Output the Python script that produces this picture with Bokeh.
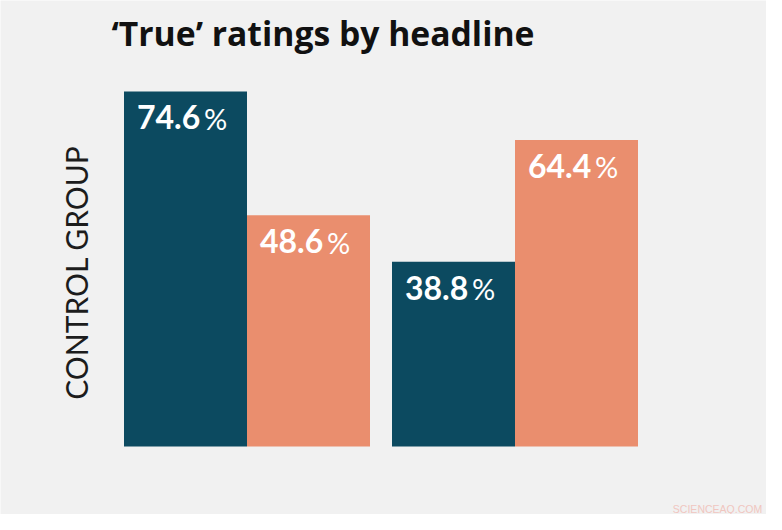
import math
from bokeh.plotting import figure
from bokeh.models import Range1d, Label, ColumnDataSource
from bokeh.core.properties import value
from bokeh.embed import file_html
from bokeh.resources import INLINE

# ---- data ----
groups = ["Headline A", "Headline B"]
series_a = [74.6, 38.8]   # dark teal bars
series_b = [48.6, 64.4]   # salmon bars
title_text = "\u2018True\u2019 ratings by headline"
ylabel_text = "CONTROL GROUP"
watermark = "SCIENCEAQ.COM"

BG = "#f1f1f1"
DARK = "#0c4a60"
SALMON = "#ea8e6e"

W, H = 766, 514
BAR_PX = 123.0
PX_PER_UNIT = 4.76
X0_PX = 185.0      # figure-pixel x of first bar centre
BASE_PX = 446.0    # figure-pixel y of baseline

xr = Range1d(-X0_PX / BAR_PX, (W - X0_PX) / BAR_PX)
yr = Range1d(-(H - BASE_PX) / PX_PER_UNIT, BASE_PX / PX_PER_UNIT)


def px2x(page_x):
    return (page_x - 8 - X0_PX) / BAR_PX


def px2y(page_y):
    return (BASE_PX - (page_y - 8)) / PX_PER_UNIT


p = figure(width=W, height=H, x_range=xr, y_range=yr, output_backend="svg",
           toolbar_location=None, x_axis_location=None, y_axis_location=None,
           min_border=0, min_border_left=0, min_border_right=0,
           min_border_top=0, min_border_bottom=0)
p.background_fill_color = BG
p.border_fill_color = BG
p.outline_line_color = None
p.grid.visible = False

group_gap = 22.0 / BAR_PX
centers = [0.5 + i * (2 + group_gap) for i in range(len(groups))]
xa = [c - 0.5 for c in centers]
xb = [c + 0.5 for c in centers]

src_a = ColumnDataSource(dict(x=xa, top=series_a, left=[x - 0.5 for x in xa],
                              num=[f"{v:.1f}" for v in series_a]))
src_b = ColumnDataSource(dict(x=xb, top=series_b, left=[x - 0.5 for x in xb],
                              num=[f"{v:.1f}" for v in series_b]))

p.vbar(x="x", top="top", bottom=0, width=1.0, source=src_a, fill_color=DARK, line_color=None)
p.vbar(x="x", top="top", bottom=0, width=1.0, source=src_b, fill_color=SALMON, line_color=None)

for src in (src_a, src_b):
    p.text(x="left", y="top", text="num", source=src, x_offset=13, y_offset=26,
           text_font=value("Lato"), text_font_style="bold", text_font_size="32px",
           text_color="white", text_align="left", text_baseline="middle")
    p.text(x="left", y="top", text=value("%"), source=src, x_offset=80, y_offset=27,
           text_font=value("Lato"), text_font_style="normal", text_font_size="29px",
           text_color="white", text_align="left", text_baseline="middle")

p.add_layout(Label(x=px2x(119), y=px2y(40), text=title_text, text_font="Open Sans",
                   text_font_style="bold", text_font_size="33.7px", text_color="#111111",
                   text_align="left", text_baseline="middle"))
p.add_layout(Label(x=px2x(83), y=px2y(280), text=ylabel_text, text_font="Lato",
                   text_font_style="normal", text_font_size="30px", text_color="#1c1c1c",
                   text_align="center", text_baseline="middle", angle=math.pi / 2))
p.add_layout(Label(x=px2x(725), y=px2y(516), text=watermark, text_font="Liberation Sans",
                   text_font_size="10.5px", text_color="#f0c6c0",
                   text_align="center", text_baseline="middle"))

html = file_html(p, INLINE)
html = html.replace("<body>", '<body style="background-color:#f1f1f1;">', 1)
open("out.html", "w").write(html)
